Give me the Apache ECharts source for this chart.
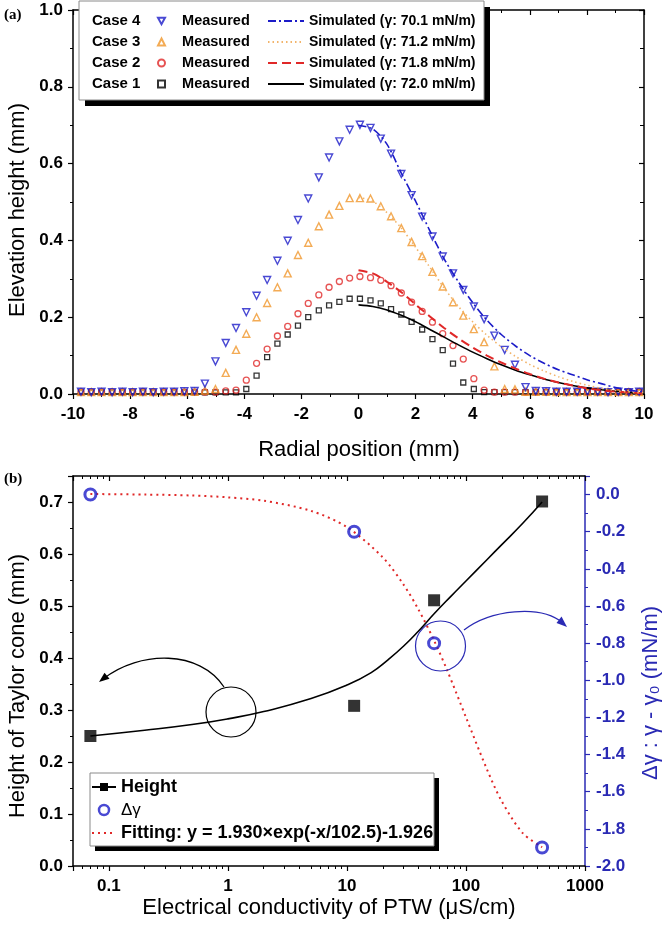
<!DOCTYPE html>
<html><head><meta charset="utf-8">
<script src="https://cdn.jsdelivr.net/npm/echarts@6/dist/echarts.min.js"></script>
<style>html,body{margin:0;padding:0;background:#fff}#c{width:666px;height:926px}</style>
</head><body><div id="c"></div>
<script>
// ---------- Panel (a) data ----------
const radialX = [-9.72,-9.36,-9.00,-8.63,-8.27,-7.91,-7.55,-7.19,-6.82,-6.46,-6.10,-5.74,-5.38,-5.01,-4.65,-4.29,-3.93,-3.57,-3.20,-2.84,-2.48,-2.12,-1.76,-1.39,-1.03,-0.67,-0.31,0.05,0.42,0.78,1.14,1.50,1.86,2.23,2.59,2.95,3.31,3.67,4.04,4.40,4.76,5.12,5.48,5.85,6.21,6.57,6.93,7.29,7.66,8.02,8.38,8.74,9.10,9.47,9.83];
const case4Measured = [0.006,0.005,0.006,0.005,0.006,0.005,0.006,0.005,0.006,0.006,0.007,0.008,0.027,0.085,0.133,0.172,0.213,0.256,0.297,0.347,0.399,0.453,0.509,0.564,0.616,0.658,0.688,0.701,0.693,0.665,0.626,0.573,0.518,0.462,0.410,0.358,0.314,0.271,0.228,0.195,0.152,0.115,0.076,0.018,0.008,0.007,0.006,0.006,0.006,0.007,0.006,0.005,0.006,0.005,0.006];
const case3Measured = [0.005,0.005,0.005,0.005,0.005,0.005,0.005,0.005,0.005,0.005,0.005,0.006,0.009,0.013,0.055,0.115,0.157,0.200,0.237,0.278,0.314,0.362,0.394,0.437,0.467,0.490,0.510,0.510,0.509,0.489,0.463,0.432,0.396,0.359,0.318,0.280,0.239,0.204,0.169,0.135,0.072,0.013,0.012,0.006,0.006,0.006,0.005,0.005,0.005,0.005,0.005,0.005,0.005,0.005,0.005];
const case2Measured = [0.005,0.005,0.005,0.005,0.005,0.005,0.006,0.005,0.005,0.005,0.005,0.005,0.005,0.005,0.008,0.010,0.036,0.080,0.117,0.151,0.176,0.209,0.236,0.258,0.278,0.293,0.302,0.306,0.303,0.296,0.282,0.263,0.239,0.215,0.187,0.157,0.126,0.091,0.040,0.010,0.005,0.005,0.005,0.005,0.005,0.005,0.005,0.005,0.005,0.005,0.005,0.005,0.005,0.006,0.006];
const case1Measured = [0.004,0.004,0.004,0.004,0.004,0.004,0.004,0.004,0.004,0.004,0.004,0.004,0.004,0.004,0.004,0.004,0.013,0.048,0.096,0.131,0.155,0.178,0.200,0.218,0.231,0.240,0.248,0.248,0.244,0.236,0.221,0.207,0.188,0.168,0.143,0.114,0.079,0.030,0.013,0.005,0.005,0.005,0.005,0.005,0.005,0.005,0.005,0.005,0.005,0.005,0.005,0.005,0.005,0.005,0.005];
const simX = [0,0.5,1,1.5,2,2.5,3,3.5,4,4.5,5,5.5,6,6.5,7,7.5,8,8.5,9,9.5,10];
const sim4 = [0.700,0.690,0.650,0.575,0.502,0.425,0.352,0.292,0.238,0.192,0.155,0.125,0.100,0.080,0.063,0.050,0.037,0.027,0.017,0.010,0.005];
const sim3 = [0.512,0.502,0.472,0.432,0.382,0.330,0.276,0.228,0.188,0.153,0.123,0.098,0.077,0.060,0.045,0.033,0.023,0.015,0.009,0.005,0.003];
const sim2 = [0.322,0.314,0.292,0.265,0.233,0.202,0.172,0.145,0.121,0.100,0.082,0.066,0.052,0.040,0.030,0.022,0.015,0.010,0.006,0.004,0.002];
const sim1 = [0.232,0.228,0.219,0.205,0.188,0.168,0.148,0.128,0.109,0.092,0.076,0.062,0.050,0.039,0.030,0.022,0.016,0.011,0.007,0.004,0.002];
const caseLabels = ['Case 4','Case 3','Case 2','Case 1'];
const measuredNames = ['Case 4 Measured','Case 3 Measured','Case 2 Measured','Case 1 Measured'];
const simNames = ['Simulated (γ: 70.1 mN/m)','Simulated (γ: 71.2 mN/m)','Simulated (γ: 71.8 mN/m)','Simulated (γ: 72.0 mN/m)'];

// ---------- Panel (b) data ----------
const conductivity = [0.07, 11.5, 54, 436];
const coneHeight = [0.250, 0.308, 0.511, 0.701];
const deltaGamma = [0.00, -0.20, -0.80, -1.90];
const heightFitX = [0.07, 0.2, 0.5, 1, 2, 5, 10, 16, 22, 30, 40, 54, 75, 100, 150, 200, 300, 436];
const heightFitY = [0.250, 0.261, 0.272, 0.283, 0.297, 0.322, 0.348, 0.372, 0.396, 0.423, 0.452, 0.485, 0.519, 0.548, 0.589, 0.618, 0.659, 0.700];
const gammaFitX = [0.07, 0.2, 0.5, 1, 2, 5, 10, 20, 30, 40, 54, 70, 100, 150, 200, 300, 436];
const gammaFitY = [0.003, 0.000, -0.005, -0.015, -0.033, -0.088, -0.175, -0.338, -0.486, -0.620, -0.786, -0.951, -1.199, -1.479, -1.652, -1.823, -1.899];
const legendB = ['Height', 'Δγ', 'Fitting: y = 1.930×exp(-x/102.5)-1.926'];

// ---------- styles ----------
const FONT = '"Liberation Sans", Arial, sans-serif';
const BLUE = '#1c1cc8', ORANGE = '#f0962a', RED = '#e02828', AXBLUE = '#2a2ab4', LIGHTOR = '#f2b46a';
const CLEAR = 'rgba(255,255,255,0)';
const DOWN_TRI = 'path://M0,0 L10,0 L5,9 Z';
const pairs = (xs, ys) => xs.map((x, i) => [x, ys[i]]);
const tl = (extra) => Object.assign({fontFamily: FONT, fontWeight: 'bold', fontSize: 17, color: '#000'}, extra || {});
const blackLine = {onZero: false, lineStyle: {color: '#000', width: 1.5}};

function valAxis(o) {
  return Object.assign({
    type: 'value', splitLine: {show: false},
    axisLine: blackLine,
    axisTick: {show: true, inside: false, length: 5, lineStyle: {color: '#000', width: 1.2}},
    minorTick: {show: true, splitNumber: 2, length: 3, lineStyle: {color: '#000', width: 1}}
  }, o);
}
const fix1 = v => {
  const r = Math.round(v * 10) / 10;
  return Math.abs(v - r) < 1e-6 ? r.toFixed(1) : '';
};
const logLabel = v => {
  const l = Math.log10(v);
  if (Math.abs(l - Math.round(l)) > 1e-6) return '';
  const p = Math.round(l);
  return p < 0 ? (Math.pow(10, p)).toFixed(-p) : String(Math.pow(10, p));
};

const chart = echarts.init(document.getElementById('c'), null, {renderer: 'canvas'});

const series = [
  {type: 'scatter', name: measuredNames[3], xAxisIndex: 0, yAxisIndex: 0, data: pairs(radialX, case1Measured),
   symbol: 'rect', symbolSize: 5, itemStyle: {color: CLEAR, borderColor: '#000', borderWidth: 1.3}},
  {type: 'scatter', name: measuredNames[2], xAxisIndex: 0, yAxisIndex: 0, data: pairs(radialX, case2Measured),
   symbol: 'circle', symbolSize: 6, itemStyle: {color: CLEAR, borderColor: RED, borderWidth: 1.3}},
  {type: 'scatter', name: measuredNames[1], xAxisIndex: 0, yAxisIndex: 0, data: pairs(radialX, case3Measured),
   symbol: 'triangle', symbolSize: 7, itemStyle: {color: CLEAR, borderColor: ORANGE, borderWidth: 1.4}},
  {type: 'scatter', name: measuredNames[0], xAxisIndex: 0, yAxisIndex: 0, data: pairs(radialX, case4Measured),
   symbol: DOWN_TRI, symbolSize: 7, itemStyle: {color: CLEAR, borderColor: BLUE, borderWidth: 1.4}},
  {type: 'line', name: simNames[3], xAxisIndex: 0, yAxisIndex: 0, data: pairs(simX, sim1), smooth: 0.3,
   symbol: 'none', lineStyle: {color: '#000', width: 1.6, type: 'solid'}, itemStyle: {color: '#000'}},
  {type: 'line', name: simNames[2], xAxisIndex: 0, yAxisIndex: 0, data: pairs(simX, sim2), smooth: 0.3,
   symbol: 'none', lineStyle: {color: RED, width: 2, type: [9, 5]}, itemStyle: {color: RED}},
  {type: 'line', name: simNames[1], xAxisIndex: 0, yAxisIndex: 0, data: pairs(simX, sim3), smooth: 0.3,
   symbol: 'none', lineStyle: {color: LIGHTOR, width: 1.6, type: [1.5, 3]}, itemStyle: {color: LIGHTOR}},
  {type: 'line', name: simNames[0], xAxisIndex: 0, yAxisIndex: 0, data: pairs(simX, sim4), smooth: 0.3,
   symbol: 'none', lineStyle: {color: BLUE, width: 1.6, type: [8, 3, 2, 3]}, itemStyle: {color: BLUE}},
  // panel b
  {type: 'line', name: legendB[0], xAxisIndex: 2, yAxisIndex: 2, data: pairs(heightFitX, heightFitY), smooth: 0.5,
   symbol: 'rect', symbolSize: 9, showSymbol: false, lineStyle: {color: '#000', width: 1.6}, itemStyle: {color: '#000'}},
  {type: 'scatter', name: 'HeightPts', xAxisIndex: 2, yAxisIndex: 2, data: pairs(conductivity, coneHeight),
   symbol: 'rect', symbolSize: 12, itemStyle: {color: '#000'}},
  {type: 'line', name: legendB[2], xAxisIndex: 2, yAxisIndex: 3, data: pairs(gammaFitX, gammaFitY), smooth: 0.3,
   symbol: 'none', lineStyle: {color: RED, width: 2, type: [2, 4]}, itemStyle: {color: RED}},
  {type: 'scatter', name: legendB[1], xAxisIndex: 2, yAxisIndex: 3, data: pairs(conductivity, deltaGamma),
   symbol: 'circle', symbolSize: 11, itemStyle: {color: CLEAR, borderColor: BLUE, borderWidth: 3}, z: 5}
];

const option = {
  backgroundColor: '#fff',
  animation: false,
  textStyle: {fontFamily: FONT},
  grid: [
    {left: 73, top: 10, width: 571, height: 384},
    {left: 73, top: 476, width: 512, height: 390}
  ],
  xAxis: [
    valAxis({gridIndex: 0, min: -10, max: 10, interval: 2,
      axisLabel: tl({margin: 12, formatter: v => String(v)})}),
    valAxis({gridIndex: 0, position: 'top', min: -10, max: 10, interval: 2,
      axisTick: {show: true, inside: true, length: 5, lineStyle: {color: '#000', width: 1.2}},
      minorTick: {show: true, splitNumber: 2, length: 3, lineStyle: {color: '#000'}},
      axisLabel: {show: false}}),
    {type: 'log', gridIndex: 1, logBase: 10, min: 0.05, max: 1000, splitLine: {show: false},
      axisLine: blackLine,
      axisTick: {show: true, inside: false, length: 5, lineStyle: {color: '#000', width: 1.2}},
      minorTick: {show: true, splitNumber: 9, length: 3, lineStyle: {color: '#000', width: 1}},
      axisLabel: tl({margin: 12, formatter: logLabel})},
    {type: 'log', gridIndex: 1, position: 'top', logBase: 10, min: 0.05, max: 1000, splitLine: {show: false},
      axisLine: blackLine,
      axisTick: {show: true, inside: true, length: 5, lineStyle: {color: '#000', width: 1.2}},
      minorTick: {show: true, splitNumber: 9, length: 3, lineStyle: {color: '#000', width: 1}},
      axisLabel: {show: false}}
  ],
  yAxis: [
    valAxis({gridIndex: 0, min: 0, max: 1, interval: 0.2, axisLabel: tl({margin: 10, formatter: fix1})}),
    valAxis({gridIndex: 0, position: 'right', min: 0, max: 1, interval: 0.2,
      axisTick: {show: true, inside: true, length: 5, lineStyle: {color: '#000', width: 1.2}},
      minorTick: {show: true, splitNumber: 2, length: 4, lineStyle: {color: '#000'}},
      axisLabel: {show: false}}),
    valAxis({gridIndex: 1, min: 0, max: 0.75, interval: 0.1,
      axisLabel: tl({margin: 10, showMaxLabel: false, formatter: fix1})}),
    valAxis({gridIndex: 1, position: 'right', min: -2, max: 0.1, interval: 0.2,
      axisLine: {onZero: false, lineStyle: {color: AXBLUE, width: 1.5}},
      axisTick: {show: true, inside: false, length: 5, lineStyle: {color: AXBLUE, width: 1.2}},
      minorTick: {show: true, splitNumber: 2, length: 3, lineStyle: {color: AXBLUE}},
      axisLabel: tl({margin: 11, color: AXBLUE, showMaxLabel: false, formatter: fix1})})
  ],
  legend: [
    {data: measuredNames, orient: 'vertical', left: 157, top: 11, padding: 0, itemGap: 1,
     itemWidth: 7, itemHeight: 7, selectedMode: false, z: 20, formatter: () => '   Measured',
     textStyle: {fontFamily: FONT, fontWeight: 'bold', fontSize: 14.5, color: '#000', lineHeight: 20}},
    {data: simNames, orient: 'vertical', left: 267, top: 11, padding: 0, itemGap: 1,
     itemWidth: 36, itemHeight: 20, selectedMode: false, z: 20, itemStyle: {opacity: 0},
     textStyle: {fontFamily: FONT, fontWeight: 'bold', fontSize: 14, color: '#000', lineHeight: 20}},
    {data: [{name: legendB[0]}, {name: legendB[1], itemStyle: {borderWidth: 2.5}}, {name: legendB[2], itemStyle: {opacity: 0}}],
     orient: 'vertical', left: 91, top: 776, padding: 0, itemGap: 1,
     itemWidth: 24, itemHeight: 10, selectedMode: false, z: 20,
     formatter: n => n === 'Δγ' ? '{r|Δγ}' : n,
     textStyle: {fontFamily: FONT, fontWeight: 'bold', fontSize: 18, color: '#000', lineHeight: 22,
       rich: {r: {fontFamily: FONT, fontWeight: 'normal', fontSize: 17, color: '#000', lineHeight: 22}}}}
  ],
  graphic: {elements: [
    {type: 'rect', z: 10, shape: {x: 85, y: 7, width: 405, height: 99}, style: {fill: '#000'}},
    {type: 'rect', z: 11, shape: {x: 79, y: 1, width: 405, height: 99}, style: {fill: '#fff', stroke: '#8a8a8a', lineWidth: 1}},
    {type: 'rect', z: 10, shape: {x: 95, y: 778, width: 344, height: 73}, style: {fill: '#000'}},
    {type: 'rect', z: 11, shape: {x: 90, y: 773, width: 344, height: 73}, style: {fill: '#fff', stroke: '#8a8a8a', lineWidth: 1}},
    ...caseLabels.map((t, i) => ({type: 'text', z: 21, x: 92, y: 21 + 21 * i,
      style: {text: t, font: 'bold 15px ' + FONT, fill: '#000', textVerticalAlign: 'middle'}})),
    {type: 'text', x: 4, y: 15, style: {text: '(a)', font: 'bold 15px "Liberation Serif", serif', fill: '#000', textVerticalAlign: 'middle'}},
    {type: 'text', x: 4, y: 479, style: {text: '(b)', font: 'bold 15px "Liberation Serif", serif', fill: '#000', textVerticalAlign: 'middle'}},
    {type: 'text', x: 18, y: 210, rotation: Math.PI / 2,
     style: {text: 'Elevation height (mm)', font: '22px ' + FONT, fill: '#000', textAlign: 'center', textVerticalAlign: 'middle'}},
    {type: 'text', x: 359, y: 450,
     style: {text: 'Radial position (mm)', font: '22px ' + FONT, fill: '#000', textAlign: 'center', textVerticalAlign: 'middle'}},
    {type: 'text', x: 18, y: 686, rotation: Math.PI / 2,
     style: {text: 'Height of Taylor cone (mm)', font: '22px ' + FONT, fill: '#000', textAlign: 'center', textVerticalAlign: 'middle'}},
    {type: 'text', x: 329, y: 908,
     style: {text: 'Electrical conductivity of PTW (μS/cm)', font: '22px ' + FONT, fill: '#000', textAlign: 'center', textVerticalAlign: 'middle'}},
    {type: 'text', x: 651, y: 693, rotation: Math.PI / 2,
     style: {text: 'Δγ : γ - γ₀ (mN/m)', font: '22px ' + FONT, fill: AXBLUE, textAlign: 'center', textVerticalAlign: 'middle'}},
    {type: 'circle', z: 6, shape: {cx: 231, cy: 712, r: 25}, style: {fill: 'none', stroke: '#000', lineWidth: 1.2}},
    {type: 'bezierCurve', z: 6, shape: {x1: 224, y1: 687, cpx1: 200, cpy1: 650, cpx2: 140, cpy2: 650, x2: 103, y2: 679},
     style: {fill: 'none', stroke: '#000', lineWidth: 1.3}},
    {type: 'polygon', z: 6, shape: {points: [[99, 682], [109.5, 678.8], [104.5, 672.8]]}, style: {fill: '#000'}},
    {type: 'circle', z: 6, shape: {cx: 440.5, cy: 646, r: 25}, style: {fill: 'none', stroke: AXBLUE, lineWidth: 1.2}},
    {type: 'bezierCurve', z: 6, shape: {x1: 464, y1: 630, cpx1: 490, cpy1: 610, cpx2: 540, cpy2: 604, x2: 563, y2: 623},
     style: {fill: 'none', stroke: AXBLUE, lineWidth: 1.3}},
    {type: 'polygon', z: 6, shape: {points: [[567, 627], [556.5, 623], [561.5, 616.5]]}, style: {fill: AXBLUE}}
  ]},
  series: series
};
chart.setOption(option);
</script>
</body></html>
